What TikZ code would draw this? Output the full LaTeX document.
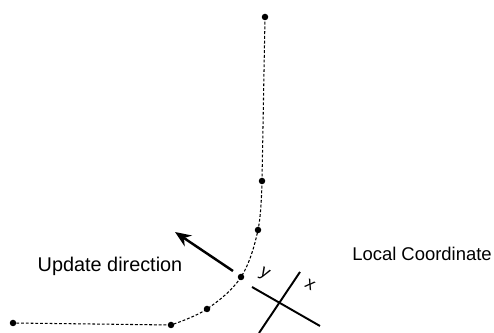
\documentclass[tikz,border=0pt]{standalone}
\usepackage{fontspec}
\setmainfont{Liberation Sans}
\usepackage{tikz}
\usetikzlibrary{arrows.meta,positioning,calc}
\tikzset{
  >={Stealth[length=3.2mm,width=2.6mm]},
  % kurva
  pt/.style={circle,fill=black,inner sep=0pt,minimum size=1.3mm},
  traj/.style={draw=black,line width=0.6pt,dash pattern=on 1.6pt off 1.1pt},
  upd/.style={->,draw=black,line width=1.4pt},
  axis/.style={draw=black,line width=1.1pt},
  lbl/.style={font=\fontsize{10.5}{12}\selectfont,inner sep=0pt},
  hand/.style={font=\normalsize,inner sep=0pt,rotate=-31},
}
\begin{document}
\begin{tikzpicture}[x=0.02cm,y=-0.02cm]
\useasboundingbox (0,0) rectangle (494,333);
  \coordinate (p1) at (265,17);
  \coordinate (p2) at (262,181);
  \coordinate (p3) at (258,230);
  \coordinate (p4) at (241,277);
  \coordinate (p5) at (207,309);
  \coordinate (p6) at (171,325);
  \coordinate (p7) at (13,323);
  \draw[traj] (p1) -- (p2);
  \draw[traj] plot[smooth,tension=0.6] coordinates {(p2) (p3) (p4) (p5) (p6)};
  \draw[traj] (p6) -- (p7);
  \foreach \i in {1,...,7}
    \node[pt] (d\i) at (p\i) {};
  % update direction
  \coordinate (u0) at (233,271);
  \coordinate (u1) at (175,232);
  \draw[upd] (u0) -- (u1);
  \node[lbl,font=\fontsize{11.3}{13}\selectfont] (upd) at (110,266) {Update direction};
  % local coordinate
  \coordinate (xa) at (252,287);
  \coordinate (xb) at (320,326);
  \coordinate (ya) at (300,272);
  \coordinate (yb) at (259,333);
  \draw[axis] (xa) -- (xb);
  \draw[axis] (ya) -- (yb);
  \node[hand] (ylab) at (264,274) {y};
  \node[hand] (xlab) at (310,285) {x};
  \node[lbl] (loc) at (422,254) {Local Coordinate};
\end{tikzpicture}
\end{document}
